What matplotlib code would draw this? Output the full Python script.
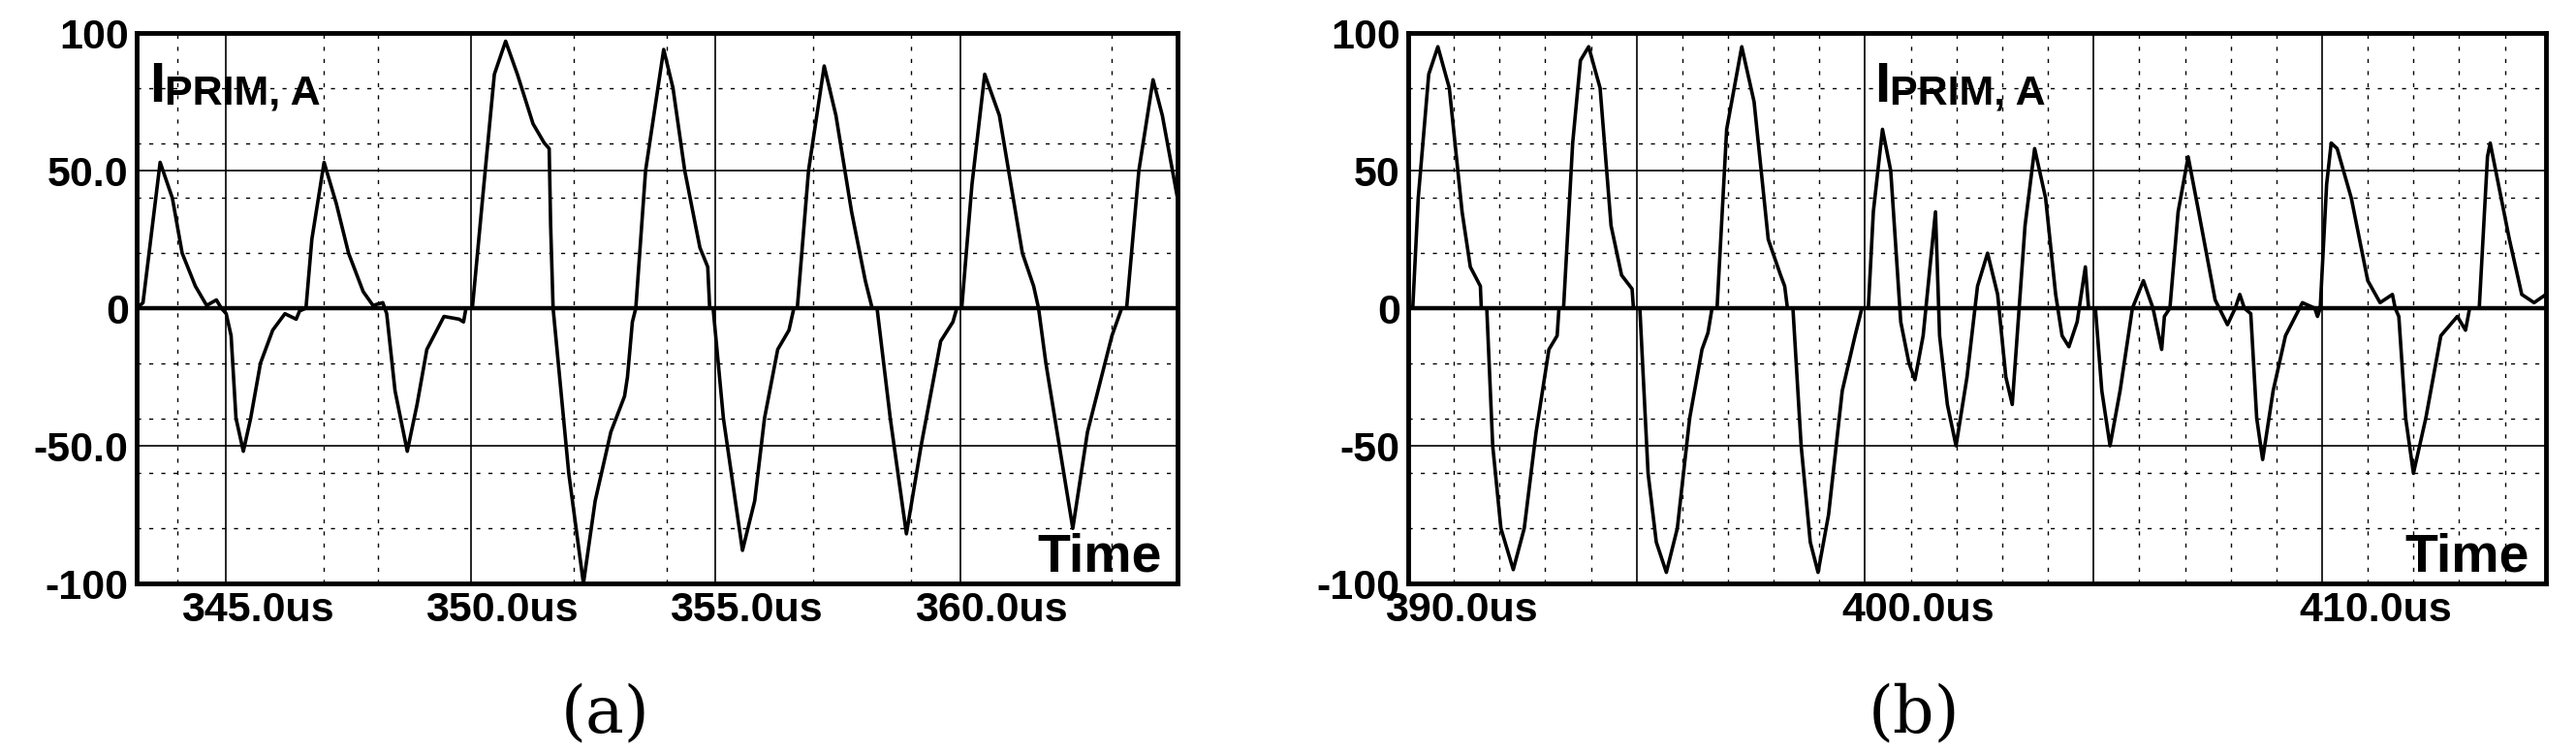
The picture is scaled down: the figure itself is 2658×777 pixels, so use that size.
import matplotlib
matplotlib.use("Agg")
import matplotlib.pyplot as plt
from matplotlib.transforms import ScaledTranslation

ta = [343.17,343.3,343.65,343.9,344.1,344.37,344.6,344.8,344.9,345.0,345.1,345.2,345.35,345.5,345.7,345.95,346.2,346.43,346.5,346.63,
      346.75,347.0,347.25,347.5,347.8,348.0,348.2,348.24,348.28,348.45,348.7,348.9,349.1,349.45,349.76,349.85,349.9,350.03,
      350.24,350.48,350.71,350.95,351.27,351.5,351.6,351.63,351.68,352.0,352.3,352.54,352.86,353.14,353.2,353.3,353.37,
      353.57,353.94,354.13,354.37,354.68,354.84,354.88,354.95,355.16,355.55,355.8,356.0,356.27,356.5,356.6,356.67,
      356.9,357.22,357.46,357.78,358.06,358.2,358.3,358.57,358.9,359.2,359.6,359.85,359.93,360.03,
      360.24,360.5,360.8,361.27,361.5,361.6,361.75,362.3,362.6,363.1,363.2,363.3,363.4,363.65,363.94,364.13,364.44]
ia = [0,2,53,40,20,8,1,3,0,-2,-10,-40,-52,-40,-20,-8,-2,-4,-1,0,
      25,53,38,20,6,1,2,0,-2,-30,-52,-35,-15,-3,-4,-5,0,0,
      40,85,97,85,67,60,58,30,0,-60,-100,-70,-45,-32,-25,-5,0,
      50,94,80,50,22,15,0,0,-40,-88,-70,-40,-15,-8,0,0,
      50,88,70,35,10,0,0,-40,-82,-50,-12,-5,0,0,
      45,85,70,20,8,0,-20,-80,-45,-10,-5,0,0,50,83,70,40]

tb = [390.0,390.1,390.22,390.45,390.65,390.9,391.18,391.36,391.58,391.6,391.72,391.85,392.03,392.3,392.54,392.8,393.08,393.26,393.3,393.4,
      393.6,393.77,393.95,394.2,394.44,394.67,394.9,394.93,395.07,395.25,395.43,395.65,395.89,396.16,396.43,396.56,396.65,396.76,
      396.97,397.3,397.57,397.88,398.15,398.24,398.3,398.42,398.6,398.8,398.97,399.2,399.5,399.78,399.93,400.07,
      400.18,400.38,400.56,400.78,400.96,401.09,401.27,401.54,401.63,401.8,401.99,402.23,402.46,402.68,402.9,403.08,403.22,403.37,
      403.5,403.71,403.95,404.17,404.31,404.46,404.64,404.82,404.89,405.04,405.18,405.36,405.58,405.85,406.09,406.3,406.49,406.55,406.67,
      406.85,407.07,407.3,407.66,407.93,408.1,408.2,408.3,408.44,408.57,408.7,408.93,409.2,409.57,409.84,409.9,409.96,
      410.1,410.2,410.33,410.64,411.0,411.27,411.54,411.6,411.68,411.83,412.0,412.27,412.6,412.96,413.14,413.23,413.44,
      413.62,413.68,413.8,414.1,414.37,414.64,414.9]
ib = [0,0,40,85,95,80,35,15,8,0,0,-50,-80,-95,-80,-45,-15,-10,0,0,
      60,90,95,80,30,12,7,0,0,-60,-85,-96,-80,-40,-15,-9,0,0,
      65,95,75,25,12,8,0,0,-50,-85,-96,-75,-30,-10,0,0,
      35,65,50,-5,-20,-26,-10,35,-10,-35,-50,-25,8,20,5,-25,-35,0,
      30,58,40,5,-10,-14,-5,15,0,0,-30,-50,-30,0,10,0,-15,-3,0,
      35,55,35,3,-6,0,5,0,-2,-40,-55,-30,-10,2,0,-3,0,
      45,60,58,40,10,2,5,0,-3,-40,-60,-40,-10,-3,-8,0,0,
      55,60,50,25,5,2,5]

a_xticks = [345, 350, 355, 360]
a_xlabels = ["345.0us", "350.0us", "355.0us", "360.0us"]
a_yticks = [-100, -50, 0, 50, 100]
a_ylabels = ["-100", "-50.0", "0", "50.0", "100"]
a_vdash = [344, 347, 348.1, 352.1, 354, 357, 359, 363.1]
b_xticks = [390, 400, 410]
b_xlabels = ["390.0us", "400.0us", "410.0us"]
b_vsolid = [395, 400, 405, 410]
b_ylabels = ["-100", "-50", "0", "50", "100"]
b_vdash = [x for x in range(391, 415) if x % 5 != 0]
hdash = [-80, -60, -40, -20, 20, 40, 60, 80]

FONT = ['Liberation Sans Narrow', 'Liberation Sans', 'DejaVu Sans']
fig = plt.figure(figsize=(26.58, 7.77), dpi=100)
axa = fig.add_axes([141/2658, 175/777, 1074/2658, 568/777])
axb = fig.add_axes([1453/2658, 175/777, 1174/2658, 568/777])

def style(ax, xlim, xt, xl, yl, vsolid, vdash, shift):
    ax.set_xlim(*xlim); ax.set_ylim(-100, 100)
    for v in vsolid:
        ax.axvline(v, color='black', lw=1.2, zorder=1)
    for v in vdash:
        ax.axvline(v, color='black', lw=1.0, ls=(0, (3, 6)), zorder=1)
    for h in hdash:
        ax.axhline(h, color='black', lw=1.0, ls=(0, (3, 6)), zorder=1)
    for h in (-50, 50):
        ax.axhline(h, color='black', lw=1.2, zorder=1)
    ax.axhline(0, color='black', lw=3.2, zorder=1)
    ax.set_xticks(xt); ax.set_xticklabels(xl)
    ax.set_yticks(a_yticks); ax.set_yticklabels(yl)
    ax.tick_params(length=0, pad=6)
    for lab in ax.get_xticklabels() + ax.get_yticklabels():
        lab.set_fontfamily(FONT); lab.set_fontweight('bold'); lab.set_fontsize(31)
    for lab in ax.get_xticklabels():
        lab.set_transform(lab.get_transform() + ScaledTranslation(shift/100, 0, fig.dpi_scale_trans))
    for s in ax.spines.values():
        s.set_linewidth(3.5)
    ax.text(0.985, 0.0, "Time", transform=ax.transAxes, ha='right', va='bottom',
            fontsize=40, fontweight='bold', family=FONT)

style(axa, (343.17, 364.44), a_xticks, a_xlabels, a_ylabels, a_xticks, a_vdash, 32)
style(axb, (390, 414.9), b_xticks, b_xlabels, b_ylabels, b_vsolid, b_vdash, 55)
axa.plot(ta, ia, color='black', lw=2.6, zorder=3)
axb.plot(tb, ib, color='black', lw=2.6, zorder=3)

def title(ax, x, y):
    t1 = ax.text(x, y, "I", transform=ax.transAxes, fontsize=42, fontweight='bold',
                 family=FONT, va='baseline')
    ax.annotate("PRIM, A", xy=(1, 0), xycoords=t1, va='bottom', fontsize=31,
                fontweight='bold', family=FONT)
title(axa, 0.012, 0.875)
title(axb, 0.41, 0.875)

fig.text(625/2658, 40/777, "(a)", ha='center', va='center', fontsize=48, family='DejaVu Serif')
fig.text(1975/2658, 40/777, "(b)", ha='center', va='center', fontsize=48, family='DejaVu Serif')
fig.savefig("out.png", dpi=100)
